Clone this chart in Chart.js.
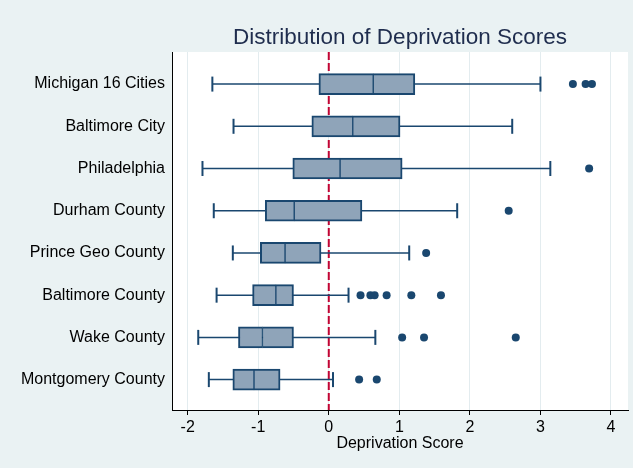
<!DOCTYPE html>
<html>
<head>
<meta charset="utf-8">
<script src="https://cdn.jsdelivr.net/npm/chart.js@4"></script>
<style>
  html, body { margin: 0; padding: 0; background: #eaf2f3; }
</style>
</head>
<body>
<canvas id="grafico" width="633" height="468"></canvas>
<script>
// Valores
const categories = ['Michigan 16 Cities', 'Baltimore City', 'Philadelphia', 'Durham County',
    'Prince Geo County', 'Baltimore County', 'Wake County', 'Montgomery County'];
const lowerWhisker = [-1.65, -1.35, -1.79, -1.63, -1.36, -1.59, -1.85, -1.70];
const q1 = [-0.14, -0.24, -0.51, -0.90, -0.97, -1.08, -1.28, -1.36];
const median = [0.63, 0.34, 0.16, -0.49, -0.62, -0.75, -0.94, -1.06];
const q3 = [1.22, 1.01, 1.04, 0.47, -0.11, -0.50, -0.50, -0.69];
const upperWhisker = [3.00, 2.60, 3.14, 1.82, 1.14, 0.28, 0.66, 0.06];
const outliers = [
    [3.46, 3.64, 3.73],
    [],
    [3.69],
    [2.55],
    [1.38],
    [0.45, 0.59, 0.65, 0.82, 1.17, 1.59],
    [1.04, 1.35, 2.65],
    [0.43, 0.68]
];
const xTickValues = [-2, -1, 0, 1, 2, 3, 4];
const referenceLine = 0;

const xMin = -2.222, xMax = 4.241;
const yMin = -0.76, yMax = 7.72;

const navy = '#1a476f';
const boxFill = '#8fa4b9';

Chart.defaults.font.family = '"Liberation Sans", Arial, Helvetica, sans-serif';

// fundo cinza-azulado e área do gráfico branca
const fundo = {
    id: 'fundo',
    beforeDraw(chart) {
        const { ctx, chartArea: a } = chart;
        ctx.save();
        ctx.fillStyle = '#eaf2f3';
        ctx.fillRect(0, 0, chart.width, chart.height);
        ctx.fillStyle = '#ffffff';
        ctx.fillRect(a.left, a.top, a.right - a.left, a.bottom - a.top);
        ctx.restore();
    }
};

const linhaZero = {
    type: 'scatter',
    indexAxis: 'x',
    data: [{ x: referenceLine, y: yMin }, { x: referenceLine, y: yMax }],
    showLine: true,
    borderColor: '#c10534',
    borderWidth: 2,
    borderDash: [8, 3],
    pointRadius: 0,
    order: 6
};

const bigodes = categories.map((c, i) => ({
    type: 'scatter',
    indexAxis: 'x',
    data: [{ x: lowerWhisker[i], y: i }, { x: upperWhisker[i], y: i }],
    showLine: true,
    borderColor: navy,
    borderWidth: 1.5,
    pointRadius: 0,
    order: 5
}));

const caixaInferior = {
    type: 'bar',
    data: categories.map((c, i) => ({ x: [q1[i], median[i]], y: i })),
    backgroundColor: boxFill,
    borderColor: navy,
    borderWidth: { left: 2, right: 1, top: 2, bottom: 2 },
    borderSkipped: false,
    barThickness: 21,
    grouped: false,
    order: 4
};

const caixaSuperior = {
    type: 'bar',
    data: categories.map((c, i) => ({ x: [median[i], q3[i]], y: i })),
    backgroundColor: boxFill,
    borderColor: navy,
    borderWidth: { left: 1, right: 2, top: 2, bottom: 2 },
    borderSkipped: false,
    barThickness: 21,
    grouped: false,
    order: 4
};

const pontas = {
    type: 'scatter',
    indexAxis: 'x',
    data: categories.flatMap((c, i) => [{ x: lowerWhisker[i], y: i }, { x: upperWhisker[i], y: i }]),
    pointStyle: 'line',
    rotation: 90,
    pointRadius: 7.5,
    borderColor: navy,
    borderWidth: 2,
    order: 3
};

const extremos = {
    type: 'scatter',
    indexAxis: 'x',
    data: outliers.flatMap((lista, i) => lista.map(v => ({ x: v, y: i }))),
    pointRadius: 4,
    backgroundColor: navy,
    borderWidth: 0,
    order: 2
};

new Chart(document.getElementById('grafico'), {
    type: 'bar',
    data: {
        datasets: [linhaZero, ...bigodes, caixaInferior, caixaSuperior, pontas, extremos]
    },
    options: {
        responsive: false,
        animation: false,
        events: [],
        indexAxis: 'y',
        layout: { autoPadding: false, padding: { left: 0, right: 0, top: 0, bottom: 15 } },
        plugins: {
            legend: { display: false },
            tooltip: { enabled: false },
            title: {
                display: true,
                text: 'Distribution of Deprivation Scores',
                fullSize: false,
                color: '#1f2d4e',
                font: { size: 22.5, weight: 'normal' },
                padding: { top: 24, bottom: 1 }
            }
        },
        scales: {
            x: {
                type: 'linear',
                min: xMin,
                max: xMax,
                offset: false,
                afterBuildTicks: scale => { scale.ticks = xTickValues.map(value => ({ value })); },
                afterFit: scale => {
                    scale.height = 43;
                    scale.paddingLeft = 0;
                    scale.paddingRight = 5;
                },
                ticks: { color: '#000', font: { size: 16 }, padding: 3 },
                grid: { color: '#e3ecef', tickColor: '#000', tickLength: 5 },
                border: { color: '#000', width: 1 },
                title: {
                    display: true,
                    text: 'Deprivation Score',
                    color: '#000',
                    font: { size: 16 },
                    padding: { top: 0, bottom: 0 }
                }
            },
            y: {
                type: 'linear',
                reverse: true,
                offset: false,
                min: yMin,
                max: yMax,
                afterBuildTicks: scale => { scale.ticks = categories.map((c, i) => ({ value: i })); },
                afterFit: scale => {
                    scale.width = 172;
                    scale.paddingTop = 0;
                    scale.paddingBottom = 0;
                },
                ticks: {
                    autoSkip: false,
                    padding: 7,
                    color: '#000',
                    font: { size: 16 },
                    callback: v => categories[v]
                },
                grid: { display: false, drawTicks: false },
                border: { color: '#000', width: 1 }
            }
        }
    },
    plugins: [fundo]
});
</script>
</body>
</html>
